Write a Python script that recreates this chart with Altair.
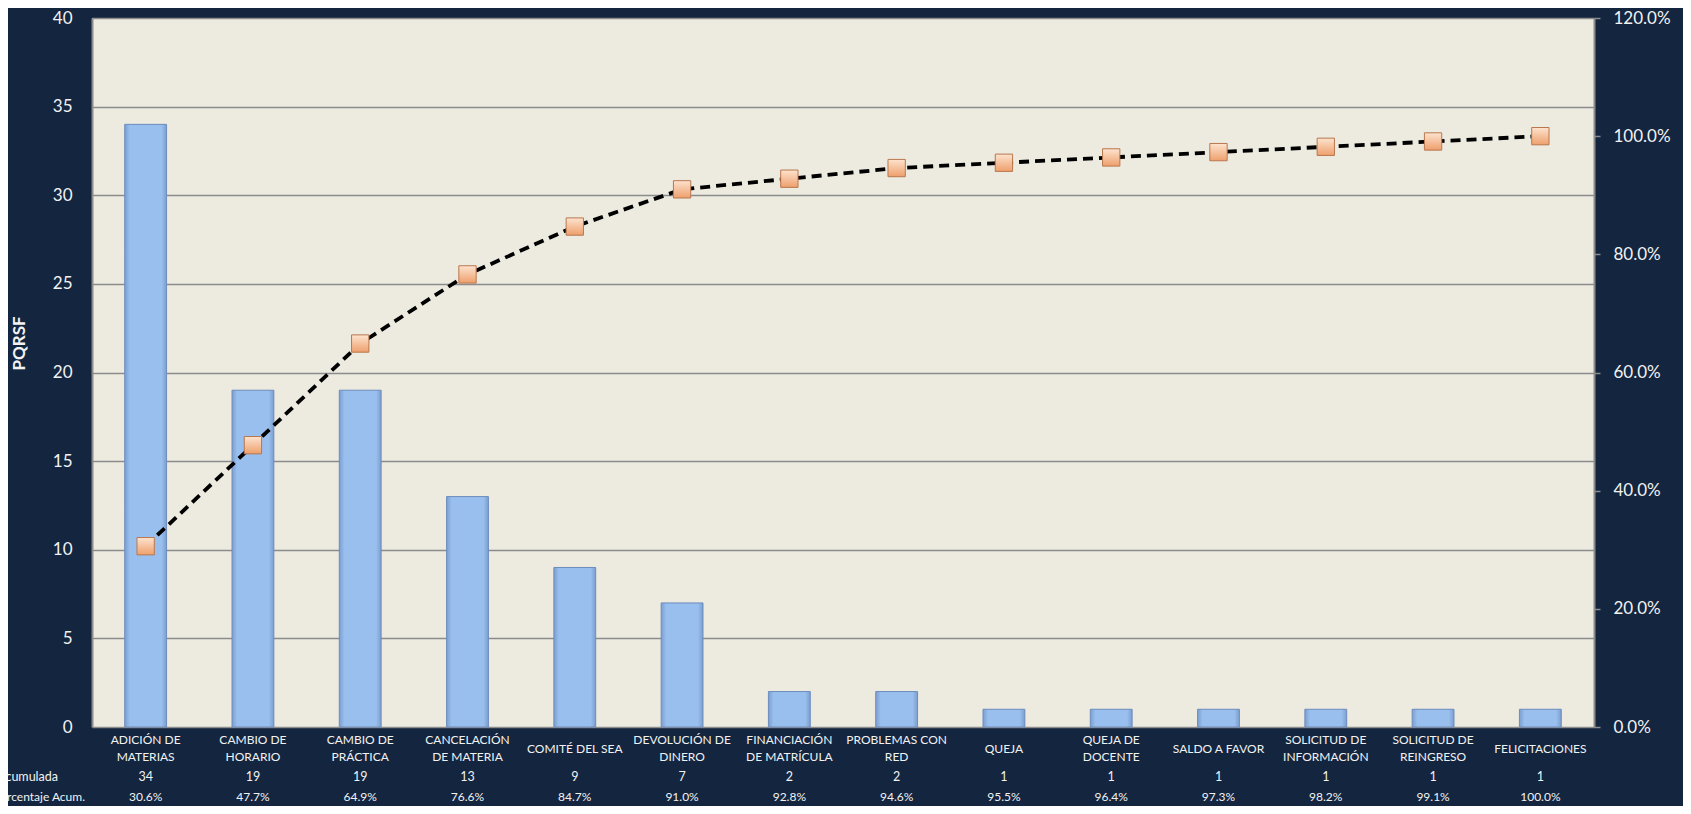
import altair as alt
import pandas as pd

categories = [
    "ADICIÓN DE\nMATERIAS", "CAMBIO DE\nHORARIO", "CAMBIO DE\nPRÁCTICA",
    "CANCELACIÓN\nDE MATERIA", "COMITÉ DEL SEA", "DEVOLUCIÓN DE\nDINERO",
    "FINANCIACIÓN\nDE MATRÍCULA", "PROBLEMAS CON\nRED", "QUEJA",
    "QUEJA DE\nDOCENTE", "SALDO A FAVOR", "SOLICITUD DE\nINFORMACIÓN",
    "SOLICITUD DE\nREINGRESO", "FELICITACIONES",
]
counts = [34, 19, 19, 13, 9, 7, 2, 2, 1, 1, 1, 1, 1, 1]
cum_pct = [30.6, 47.7, 64.9, 76.6, 84.7, 91.0, 92.8, 94.6, 95.5, 96.4, 97.3, 98.2, 99.1, 100.0]
left_ticks = [0, 5, 10, 15, 20, 25, 30, 35, 40]
right_ticks = [0.0, 0.2, 0.4, 0.6, 0.8, 1.0, 1.2]
row_labels = ["Frecuencia Acumulada", "Porcentaje Acum."]
y_title = "PQRSF"

df = pd.DataFrame({
    "cat": categories,
    "count": counts,
    "cum": [v / 100 for v in cum_pct],
    "cum_label": [f"{v:.1f}%" for v in cum_pct],
})

FONT = "Lato"
WHITE = "#F2F2F2"
GRID = "#8C8C8C"

xscale = alt.Scale(paddingInner=0.61, paddingOuter=0.305)
x_main = alt.X("cat:N", sort=None, scale=xscale,
               axis=alt.Axis(labels=False, ticks=False, title=None,
                             domainColor=GRID, domainWidth=2))
x_plain = alt.X("cat:N", sort=None, scale=xscale, axis=None)

bar_grad = alt.LinearGradient(
    gradient="linear", x1=0, x2=1, y1=0, y2=0,
    stops=[alt.GradientStop(offset=0, color="#7B9ED0"),
           alt.GradientStop(offset=0.12, color="#99BFEE"),
           alt.GradientStop(offset=0.88, color="#99BFEE"),
           alt.GradientStop(offset=1, color="#7B9ED0")])

pt_grad = alt.LinearGradient(
    gradient="linear", x1=0, x2=0, y1=0, y2=1,
    stops=[alt.GradientStop(offset=0, color="#FDE3CE"),
           alt.GradientStop(offset=1, color="#EE9F6C")])

base = alt.Chart(df)

bars = base.mark_bar(color=bar_grad, stroke="#6C8CBC", strokeWidth=1).encode(
    x=x_main,
    y=alt.Y("count:Q", scale=alt.Scale(domain=[0, 40]),
            axis=alt.Axis(values=left_ticks, ticks=False, grid=True,
                          gridColor=GRID, gridWidth=1.5,
                          domainColor=GRID, domainWidth=2,
                          labelPadding=20, labelFontSize=17, labelColor=WHITE,
                          labelFont=FONT, title=None)),
)

line = base.mark_line(color="black", strokeWidth=3.8, strokeDash=[10, 6]).encode(
    x=x_plain,
    y=alt.Y("cum:Q", scale=alt.Scale(domain=[0, 1.2]),
            axis=alt.Axis(orient="right", values=right_ticks, format=".1%",
                          grid=False, ticks=True, tickSize=6, tickColor=GRID,
                          tickWidth=1.5, domainColor=GRID, domainWidth=2,
                          labelPadding=13, labelFontSize=17, labelColor=WHITE,
                          labelFont=FONT, title=None)),
)

points = base.mark_point(shape="square", filled=True, size=300, fill=pt_grad,
                         stroke="#B8774E", strokeWidth=1, opacity=1).encode(
    x=x_plain,
    y=alt.Y("cum:Q", scale=alt.Scale(domain=[0, 1.2]), axis=None),
)

cat_two = base.transform_filter("indexof(datum.cat, '\\n') >= 0").mark_text(
    font=FONT, fontSize=12, color=WHITE, baseline="middle",
    lineBreak="\n", lineHeight=17).encode(
    x=x_plain, y=alt.value(722), text="cat:N")

cat_one = base.transform_filter("indexof(datum.cat, '\\n') < 0").mark_text(
    font=FONT, fontSize=12, color=WHITE, baseline="middle").encode(
    x=x_plain, y=alt.value(730.5), text="cat:N")

count_text = base.mark_text(font=FONT, fontSize=12.5, color=WHITE,
                            baseline="middle").encode(
    x=x_plain, y=alt.value(759), text="count:Q")

pct_text = base.mark_text(font=FONT, fontSize=12, color=WHITE,
                          baseline="middle").encode(
    x=x_plain, y=alt.value(779), text="cum_label:N")

row1 = alt.Chart(pd.DataFrame({"lab": [row_labels[0]]})).mark_text(
    font=FONT, fontSize=12.5, color=WHITE, baseline="middle", align="right").encode(
    x=alt.value(-34), y=alt.value(759), text="lab:N")
row2 = alt.Chart(pd.DataFrame({"lab": [row_labels[1]]})).mark_text(
    font=FONT, fontSize=12, color=WHITE, baseline="middle", align="right").encode(
    x=alt.value(-7), y=alt.value(779), text="lab:N")

title_txt = alt.Chart(pd.DataFrame({"t": [y_title]})).mark_text(
    font=FONT, fontSize=17, fontWeight="bold", color=WHITE, angle=270,
    align="center", baseline="middle").encode(
    x=alt.value(-72.5), y=alt.value(325.5), text="t:N")

chart = alt.layer(bars, line, points, cat_two, cat_one, count_text, pct_text,
                  row1, row2, title_txt).resolve_scale(
    y="independent", x="shared"
).properties(
    width=1502, height=709,
    background="#13253F",
    padding={"left": 84, "top": 10, "right": 89, "bottom": 79},
    autosize=alt.AutoSizeParams(type="none"),
).configure_view(fill="#EDEBE0", stroke=None)

chart.save("out.html", embed_options={"renderer": "svg", "actions": False})
